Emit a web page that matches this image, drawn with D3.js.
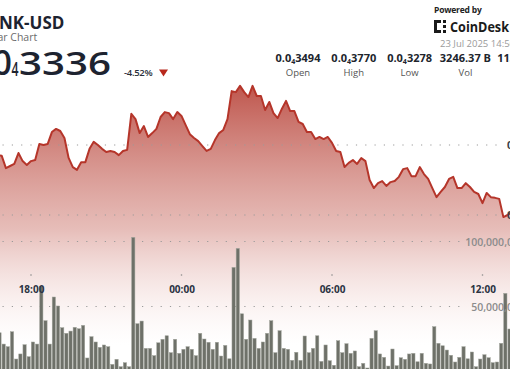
<!DOCTYPE html>
<html><head><meta charset="utf-8">
<script src="https://cdn.jsdelivr.net/npm/d3@7"></script>
<style>
html,body{margin:0;padding:0;background:#fff;overflow:hidden}
svg{display:block;font-family:"Open Sans",sans-serif}
</style></head><body>
<svg id="c" width="510" height="369"></svg>
<script>
// ---- data ----
const startTime = "2025-07-22T16:40:00";   // first 10-minute slot
const stepMinutes = 10;
// price in units of 1e-8 USD (0.0₄3600 = 3600)
const priceE8 = [3571,3569,3534,3540,3546,3577,3554,3543,
3554,3557,3603,3600,3603,3637,3646,3640,3620,3563,
3537,3529,3551,3551,3589,3609,3600,3589,3580,3583,
3580,3571,3583,3586,3689,3674,3634,3654,3623,3634,
3646,3680,3694,3691,3674,3694,3683,3657,3631,3620,
3611,3597,3583,3589,3614,3634,3643,3674,3754,3751,
3769,3751,3737,3769,3740,3740,3700,3723,3691,3677,
3703,3726,3697,3697,3666,3660,3637,3637,3617,3623,
3617,3623,3606,3583,3580,3537,3549,3557,3546,3563,
3554,3500,3477,3491,3497,3483,3494,3497,3509,3531,
3534,3511,3511,3537,3517,3503,3477,3451,3466,3480,
3503,3509,3477,3477,3491,3480,3466,3460,3434,3463,
3451,3449,3446,3394,3400,3409];
// volume in millions of tokens
const volumeM = [29.8,21.1,19.1,30.6,9.6,13.5,20.6,11.4,
22.7,21.1,65.5,39.1,21.1,57.3,50.4,33.7,29.4,31.1,
34.0,32.9,35.5,10.4,26.8,22.7,18.6,20.4,19.1,5.5,
9.4,3.7,6.8,3.7,103.2,36.8,38.8,17.8,17.8,12.2,
22.1,24.8,27.5,14.5,24.8,14.0,17.1,19.1,17.1,12.2,
29.4,25.0,22.5,17.1,22.5,11.9,20.1,9.8,80.1,94.7,
44.4,24.8,39.6,25.5,17.8,22.7,29.4,39.1,14.5,31.4,
17.8,17.1,8.6,14.8,8.6,27.3,14.5,17.8,27.5,7.8,
20.4,8.3,4.8,23.7,14.5,21.4,14.0,15.8,3.7,6.3,
2.7,25.5,31.4,13.5,10.9,4.2,17.3,4.5,10.6,9.4,
13.5,14.0,7.5,14.0,6.3,5.8,34.5,21.7,19.8,16.5,
12.5,7.3,10.9,19.1,9.8,15.0,3.7,9.6,12.9,10.6,
6.8,7.3,21.7,60.1,32.7,30.0];
const timeTicks = ["2025-07-22T18:00:00","2025-07-23T00:00:00","2025-07-23T06:00:00","2025-07-23T12:00:00"];
const priceTicksE8 = [3400, 3600];
const volumeTicks = [50000000, 100000000];
const statValues = [["0.0","4","3494"],["0.0","4","3770"],["0.0","4","3278"],["3246.37 B","",""],["113.62 M","",""]];
const statLabels = ["Open","High","Low","Vol","Vol"];
const pair = "BONK-USD";
const subtitle = "Linear Chart";
const lastPrice = ["0.0","4","3336"];
const change = "-4.52%";
const stamp = "23 Jul 2025 14:56";

// ---- build ----
const svg = d3.select("#c");
const parse = d3.isoParse;
const t0 = parse(startTime);
const slots = priceE8.map((p, i) => ({t: d3.timeMinute.offset(t0, i * stepMinutes), p, v: volumeM[i] * 1e6}));
const ticks = timeTicks.map(parse);

const x = d3.scaleTime().domain([ticks[0], ticks[3]]).range([31, 482.5]);
const yP = d3.scaleLinear().domain([3400, 3600]).range([215, 145]);
const yV = d3.scaleLinear().domain([0, 100000000]).range([371.5, 241.5]);

const defs = svg.append("defs");
const grad = defs.append("linearGradient").attr("id","ag")
  .attr("gradientUnits","userSpaceOnUse").attr("x1",0).attr("y1",86).attr("x2",0).attr("y2",345);
grad.append("stop").attr("offset",0).attr("stop-color","#b8443a").attr("stop-opacity",0.9);
grad.append("stop").attr("offset",0.55).attr("stop-color","#d2867e").attr("stop-opacity",0.55);
grad.append("stop").attr("offset",1).attr("stop-color","#f2d6d3").attr("stop-opacity",0);

// area
svg.append("path").datum(slots)
  .attr("fill","url(#ag)")
  .attr("d", d3.area().x(d => x(d.t)).y0(369).y1(d => yP(d.p)));

// price grid
svg.append("g").selectAll("line").data(priceTicksE8).join("line")
  .attr("x1",2.5).attr("x2",502).attr("y1",d=>yP(d)).attr("y2",d=>yP(d))
  .attr("stroke","#9a9a9a").attr("stroke-width",1.2).attr("stroke-dasharray","1.2,8.1");
// volume grid
svg.append("g").selectAll("line").data(volumeTicks).join("line")
  .attr("x1",2.5).attr("x2",460).attr("y1",d=>yV(d)).attr("y2",d=>yV(d))
  .attr("stroke","#9a9a9a").attr("stroke-width",1.2).attr("stroke-dasharray","1.2,8.1");

// volume bars
const pitch = x(d3.timeMinute.offset(ticks[0], stepMinutes)) - x(ticks[0]);
svg.append("g").selectAll("rect").data(slots).join("rect")
  .attr("x", d => x(d.t) + 0.3)
  .attr("width", pitch - 0.9)
  .attr("y", d => yV(d.v))
  .attr("height", d => yV(0) - yV(d.v))
  .attr("fill","#6e7169").attr("stroke","#a3a69e").attr("stroke-width",0.5);

// line
svg.append("path").datum(slots)
  .attr("fill","none").attr("stroke","#b5352a").attr("stroke-width",2).attr("stroke-linejoin","round")
  .attr("d", d3.line().x(d => x(d.t)).y(d => yP(d.p)));

// time axis
const xa = svg.append("g").attr("transform","translate(0,292.5)")
  .call(d3.axisBottom(x).tickValues(ticks).tickSize(0).tickPadding(0).tickFormat(d3.timeFormat("%H:%M")));
xa.select(".domain").remove();
xa.selectAll("text").attr("y",0).attr("dy",0).attr("fill","#2b3342")
  .style("font-size","10px").style("font-weight","700").style("font-family","'Open Sans',sans-serif");
svg.append("g").selectAll("circle").data(ticks).join("circle")
  .attr("cx", d=>x(d)).attr("cy",275).attr("r",0.8).attr("fill","#8a8a8a");

// volume axis labels
const va = svg.append("g").attr("transform","translate(525,0)")
  .call(d3.axisLeft(yV).tickValues(volumeTicks).tickSize(0).tickPadding(0).tickFormat(d3.format(",")));
va.select(".domain").remove();
va.selectAll("text").attr("dy","0.35em").attr("fill","#8c8c8c")
  .style("font-size","10.5px").style("font-weight","600").style("font-family","'Open Sans',sans-serif");

// price axis labels
const pa = svg.append("g").attr("transform","translate(507,0)")
  .call(d3.axisRight(yP).tickValues(priceTicksE8).tickSize(0).tickPadding(0).tickFormat(d => "0.0₄" + d));
pa.select(".domain").remove();
pa.selectAll("text").attr("dy","0.35em").attr("fill","#3a3f4a")
  .style("font-size","10.5px").style("font-weight","700").style("font-family","'Open Sans',sans-serif");

// ---- header ----
svg.append("text").attr("x",-26).attr("y",29).text(pair)
  .attr("fill","#1d2330").style("font-size","17px").style("font-weight","700");
svg.append("text").attr("x",-23).attr("y",40.5).text(subtitle)
  .attr("fill","#6b6b6b").style("font-size","10.5px");

const bigStyle = s => s.attr("fill","#1d2330").style("font-weight","600");
svg.append("text").attr("x",12).attr("y",75).attr("text-anchor","end").text(lastPrice[0])
  .call(bigStyle).style("font-size","34px");
svg.append("text").attr("x",11.5).attr("y",76).text(lastPrice[1])
  .call(bigStyle).style("font-size","19px").attr("textLength",7).attr("lengthAdjust","spacingAndGlyphs");
svg.append("text").attr("x",19).attr("y",75).text(lastPrice[2])
  .call(bigStyle).style("font-size","33px").attr("textLength",92).attr("lengthAdjust","spacingAndGlyphs");

svg.append("text").attr("x",124).attr("y",75.5).text(change)
  .attr("fill","#2a2f3a").style("font-size","9.5px").style("font-weight","600").style("letter-spacing","-0.3px");
svg.append("path").attr("d","M159,69.5 L168,69.5 L163.5,76.5 Z").attr("fill","#b8281c");

// powered by
svg.append("text").attr("x",434).attr("y",12.5).text("Powered by")
  .attr("fill","#222").style("font-size","8.5px").style("font-weight","700").style("letter-spacing","-0.2px");
const logo = svg.append("g").attr("fill","#1a1a1a");
logo.append("rect").attr("x",434).attr("y",20).attr("width",3).attr("height",13);
logo.append("rect").attr("x",434).attr("y",20).attr("width",7).attr("height",3);
logo.append("rect").attr("x",434).attr("y",30).attr("width",7).attr("height",3);
logo.append("rect").attr("x",443).attr("y",20).attr("width",3).attr("height",3);
logo.append("rect").attr("x",443).attr("y",25).attr("width",3).attr("height",3);
logo.append("rect").attr("x",443).attr("y",30).attr("width",3).attr("height",3);
svg.append("text").attr("x",450).attr("y",32).text("CoinDesk")
  .attr("fill","#1a1a1a").style("font-size","15px").style("font-weight","700")
  .attr("textLength",59).attr("lengthAdjust","spacingAndGlyphs");
svg.append("text").attr("x",440).attr("y",46.5).text(stamp)
  .attr("fill","#9a9a9a").style("font-size","9.5px");

// stats row
const stats = svg.append("g");
statValues.forEach((v, i) => {
  const cx = 298 + i * 55.8;
  const t = stats.append("text").attr("x",cx).attr("y",62).attr("text-anchor","middle")
    .attr("fill","#20242c").style("font-size","11px").style("font-weight","700");
  t.append("tspan").text(v[0]);
  if (v[1]) { t.append("tspan").text(v[1]).style("font-size","7px").attr("dy",1.5);
              t.append("tspan").text(v[2]).attr("dy",-1.5); }
  stats.append("text").attr("x",cx).attr("y",75.5).attr("text-anchor","middle").text(statLabels[i])
    .attr("fill","#555").style("font-size","9.5px");
});
</script>
</body></html>
